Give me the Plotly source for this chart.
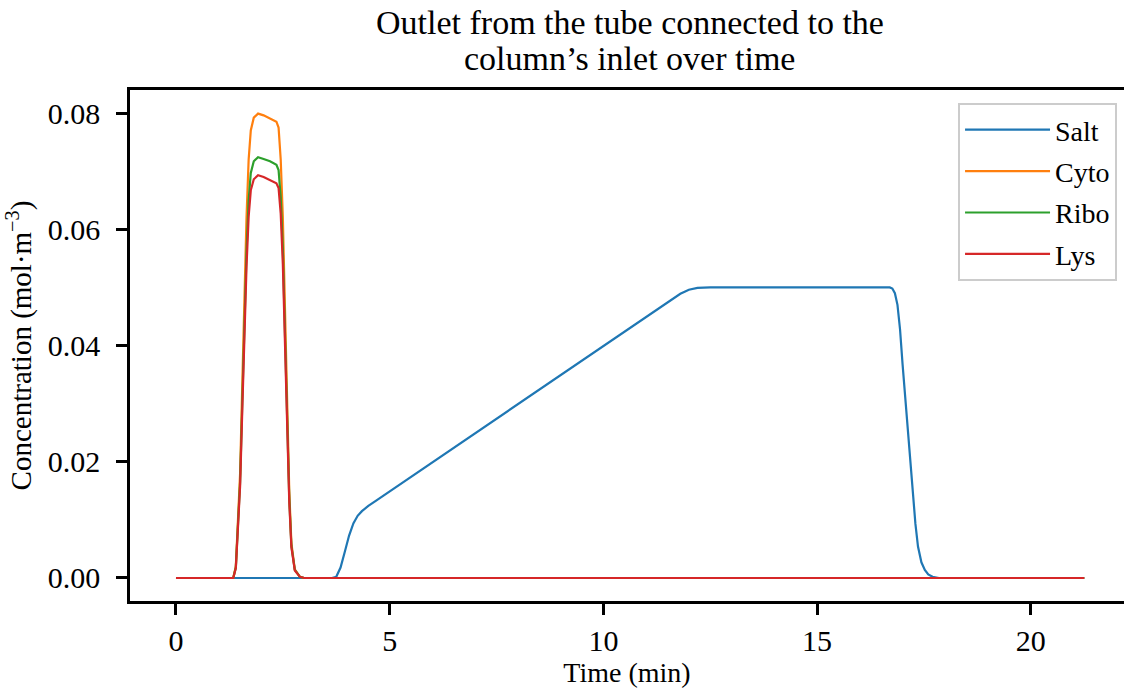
import plotly.graph_objects as go

# ---- data ----
salt_t = [0, 3.65, 3.75, 3.85, 3.95, 4.05, 4.15, 4.25, 4.35, 4.5, 4.7, 5.0,
          6.0, 7.0, 8.0, 9.0, 10.0, 11.0, 11.6, 11.8, 12.0, 12.2, 12.5,
          16.0, 16.7, 16.76, 16.82, 16.88, 16.94, 17.0, 17.1, 17.2, 17.25,
          17.3, 17.36, 17.44, 17.52, 17.6, 17.7, 17.85, 21.25]
salt_c = [0, 0, 0.0002, 0.0018, 0.0045, 0.0073, 0.0094, 0.0107, 0.0115, 0.0124, 0.0134, 0.0149,
          0.0199, 0.0249, 0.0299, 0.0349, 0.0399, 0.0449, 0.0479, 0.0489, 0.0496, 0.0499, 0.0500,
          0.0500, 0.0500, 0.0498, 0.0490, 0.0470, 0.0428, 0.0367, 0.0271, 0.0175, 0.0129,
          0.0093, 0.0054, 0.0027, 0.0014, 0.0006, 0.0002, 0, 0]

prot_t = [0, 1.34, 1.40, 1.46, 1.50, 1.55, 1.60, 1.65, 1.70, 1.75, 1.82, 1.92,
          2.05, 2.20, 2.35, 2.40, 2.45, 2.50, 2.55, 2.60, 2.65, 2.70, 2.78, 2.90, 3.0, 21.25]
cyto_c = [0, 0, 0.0020, 0.0110, 0.0180, 0.0330, 0.0480, 0.0620, 0.0720, 0.0770, 0.0792, 0.0799,
          0.0796, 0.0791, 0.0785, 0.0775, 0.0720, 0.0620, 0.0460, 0.0290, 0.0150, 0.0060, 0.0015, 0.0002, 0, 0]
ribo_c = [0, 0, 0.0018, 0.0100, 0.0165, 0.0300, 0.0435, 0.0560, 0.0650, 0.0697, 0.0717, 0.0724,
          0.0721, 0.0717, 0.0711, 0.0702, 0.0655, 0.0565, 0.0420, 0.0265, 0.0137, 0.0055, 0.0014, 0.0002, 0, 0]
lys_c = [0, 0, 0.0017, 0.0096, 0.0158, 0.0287, 0.0416, 0.0536, 0.0622, 0.0667, 0.0686, 0.0693,
         0.0690, 0.0685, 0.0679, 0.0671, 0.0627, 0.0540, 0.0402, 0.0254, 0.0131, 0.0053, 0.0013, 0.0002, 0, 0]

names = ["Salt", "Cyto", "Ribo", "Lys"]
colors = ["#1f77b4", "#ff7f0e", "#2ca02c", "#d62728"]
x_ticks = [0, 5, 10, 15, 20]
y_ticks = [0.00, 0.02, 0.04, 0.06, 0.08]
title_lines = ["Outlet from the tube connected to the", "column\u2019s inlet over time"]

FONT = "Liberation Serif, Times New Roman, serif"

fig = go.Figure()
series = [(salt_t, salt_c), (prot_t, cyto_c), (prot_t, ribo_c), (prot_t, lys_c)]
for (t, c), name, col in zip(series, names, colors):
    fig.add_trace(go.Scatter(x=t, y=c, mode="lines", name=name, legendgroup=name,
                             line=dict(color=col, width=2.2)))

# two-line title as annotations (placed above the plot area)
for txt, yy in zip(title_lines, [1.133, 1.0626]):
    fig.add_annotation(text=txt, x=0.503, xref="paper", y=yy, yref="paper",
                       xanchor="center", yanchor="middle", showarrow=False,
                       font=dict(family=FONT, size=34, color="black"))

fig.update_layout(
    width=1124, height=695,
    margin=dict(l=130, r=0, t=90, b=94),
    paper_bgcolor="white", plot_bgcolor="white",
    font=dict(family=FONT, color="black", size=27),
    legend=dict(x=0.993, xanchor="right", y=0.9746, yanchor="top",
                bgcolor="rgba(255,255,255,0.8)", bordercolor="#cccccc", borderwidth=2,
                font=dict(family=FONT, size=28, color="black"),
                tracegroupgap=2, itemwidth=85),
    showlegend=True,
)

fig.update_xaxes(
    range=[-1.076, 22.18], tickvals=x_ticks, ticktext=[str(v) for v in x_ticks],
    showgrid=False, zeroline=False,
    showline=True, linecolor="black", linewidth=2.5, mirror=True,
    ticks="outside", ticklen=11, tickwidth=2.5, tickcolor="black",
    tickfont=dict(family=FONT, size=30, color="black"),
    title=dict(text="Time (min)", font=dict(family=FONT, size=28, color="black"), standoff=6),
)
fig.update_yaxes(
    range=[-0.00396, 0.08396], tickvals=y_ticks, ticktext=[f"{v:.2f}" for v in y_ticks],
    showgrid=False, zeroline=False,
    showline=True, linecolor="black", linewidth=2.5, mirror=False,
    ticks="outside", ticklen=11, tickwidth=2.5, tickcolor="black",
    ticklabelstandoff=10,
    tickfont=dict(family=FONT, size=30, color="black"),
    title=dict(text="Concentration (mol\u00b7m<sup>\u22123</sup>)",
               font=dict(family=FONT, size=29, color="black"), standoff=8),
)

fig.write_html("out.html")
